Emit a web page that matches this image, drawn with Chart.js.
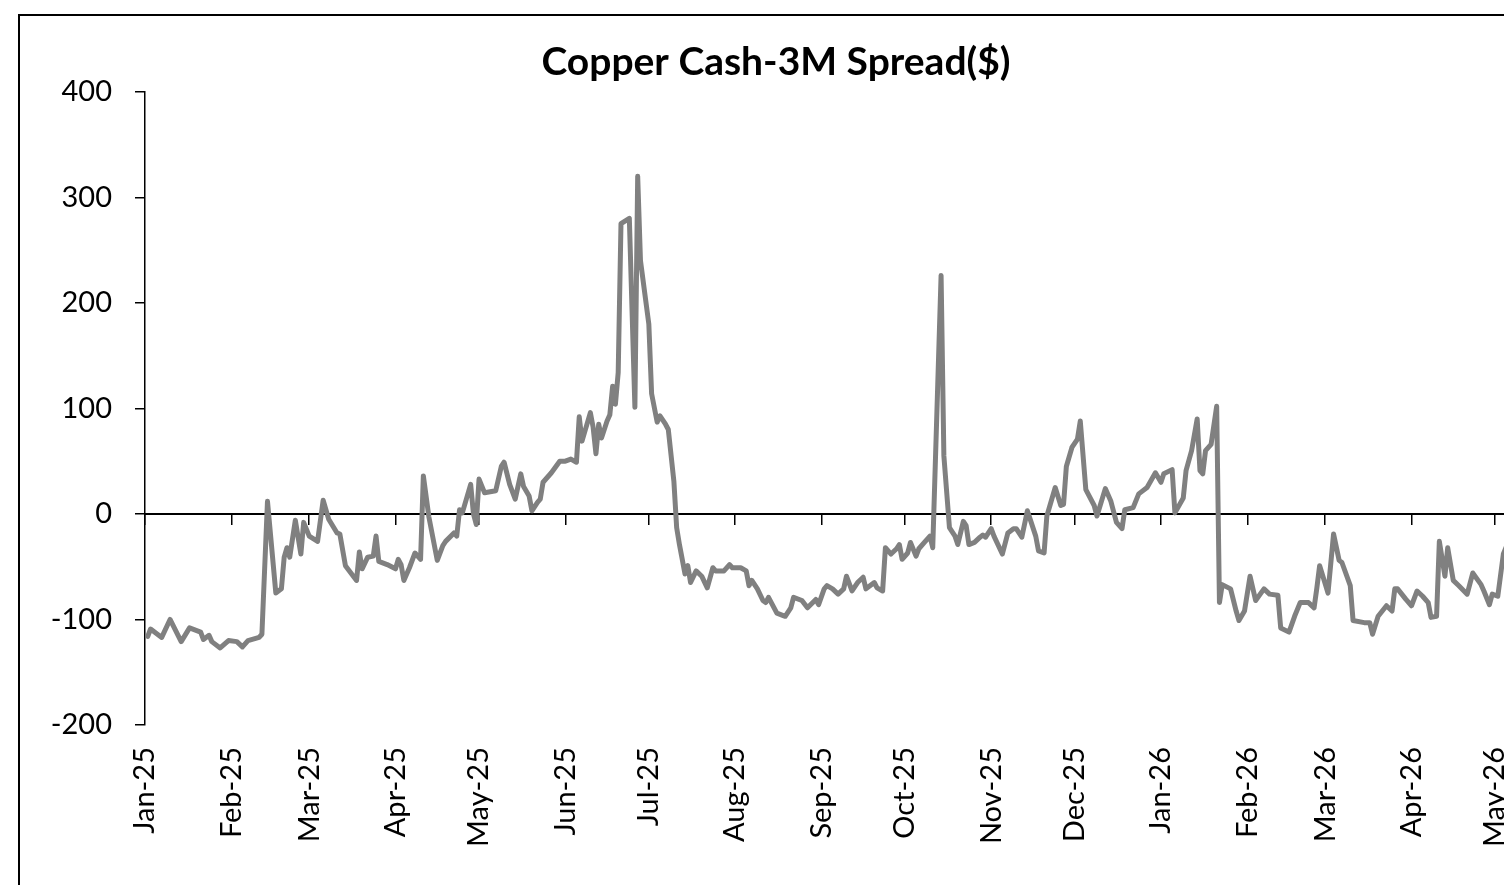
<!DOCTYPE html>
<html>
<head>
<meta charset="utf-8">
<title>Copper Cash-3M Spread</title>
<script src="https://cdn.jsdelivr.net/npm/chart.js@4"></script>
<style>
  html, body { margin: 0; padding: 0; background: #fff; overflow: hidden; }
  #page { position: relative; width: 1504px; height: 885px; overflow: hidden; }
  #frame { position: absolute; left: 18px; top: 14px; width: 1512px; height: 900px; border: 2px solid #000; }
  canvas { display: block; }
</style>
</head>
<body>
<div id="page"><div id="frame"><canvas id="chart" width="1512" height="900"></canvas></div></div>
<script>
// trading dates, one line per month
const dates = [
  '2025-01-02','2025-01-03','2025-01-07','2025-01-10','2025-01-14','2025-01-17','2025-01-21','2025-01-22','2025-01-24','2025-01-25','2025-01-28','2025-01-31',
  '2025-02-03','2025-02-05','2025-02-07','2025-02-11','2025-02-12','2025-02-14','2025-02-17','2025-02-19','2025-02-20','2025-02-21','2025-02-22','2025-02-24','2025-02-26','2025-02-27',
  '2025-03-01','2025-03-04','2025-03-06','2025-03-08','2025-03-11','2025-03-12','2025-03-14','2025-03-18','2025-03-19','2025-03-20','2025-03-22','2025-03-24','2025-03-25','2025-03-26','2025-03-29',
  '2025-04-01','2025-04-02','2025-04-03','2025-04-04','2025-04-06','2025-04-08','2025-04-10','2025-04-11','2025-04-13','2025-04-16','2025-04-18','2025-04-19','2025-04-22','2025-04-23','2025-04-24','2025-04-25','2025-04-28','2025-04-29','2025-04-30',
  '2025-05-01','2025-05-03','2025-05-07','2025-05-09','2025-05-10','2025-05-12','2025-05-14','2025-05-16','2025-05-17','2025-05-19','2025-05-20','2025-05-22','2025-05-23','2025-05-24','2025-05-27','2025-05-30',
  '2025-06-01','2025-06-03','2025-06-05','2025-06-06','2025-06-07','2025-06-10','2025-06-11','2025-06-12','2025-06-13','2025-06-14','2025-06-16','2025-06-17','2025-06-18','2025-06-19','2025-06-20','2025-06-21','2025-06-24','2025-06-26','2025-06-27','2025-06-28',
  '2025-07-01','2025-07-02','2025-07-04','2025-07-05','2025-07-07','2025-07-08','2025-07-10','2025-07-11','2025-07-12','2025-07-14','2025-07-15','2025-07-16','2025-07-18','2025-07-20','2025-07-22','2025-07-24','2025-07-25','2025-07-28','2025-07-30','2025-07-31',
  '2025-08-03','2025-08-05','2025-08-06','2025-08-07','2025-08-09','2025-08-11','2025-08-12','2025-08-13','2025-08-15','2025-08-16','2025-08-19','2025-08-21','2025-08-22','2025-08-25','2025-08-27','2025-08-30','2025-08-31',
  '2025-09-02','2025-09-03','2025-09-05','2025-09-07','2025-09-09','2025-09-10','2025-09-12','2025-09-14','2025-09-16','2025-09-17','2025-09-20','2025-09-21','2025-09-23','2025-09-24','2025-09-26','2025-09-28','2025-09-29','2025-09-30',
  '2025-10-02','2025-10-03','2025-10-05','2025-10-06','2025-10-08','2025-10-10','2025-10-11','2025-10-14','2025-10-15','2025-10-17','2025-10-19','2025-10-20','2025-10-22','2025-10-23','2025-10-24','2025-10-26','2025-10-28','2025-10-29','2025-10-30',
  '2025-11-01','2025-11-02','2025-11-05','2025-11-07','2025-11-09','2025-11-10','2025-11-12','2025-11-14','2025-11-17','2025-11-18','2025-11-20','2025-11-21','2025-11-24','2025-11-26','2025-11-27','2025-11-28','2025-11-30',
  '2025-12-02','2025-12-03','2025-12-05','2025-12-08','2025-12-09','2025-12-12','2025-12-14','2025-12-16','2025-12-18','2025-12-19','2025-12-22','2025-12-24','2025-12-27','2025-12-30',
  '2026-01-01','2026-01-02','2026-01-05','2026-01-06','2026-01-09','2026-01-10','2026-01-12','2026-01-14','2026-01-15','2026-01-16','2026-01-17','2026-01-19','2026-01-21','2026-01-22','2026-01-23','2026-01-26','2026-01-28','2026-01-29','2026-01-31',
  '2026-02-02','2026-02-04','2026-02-07','2026-02-09','2026-02-12','2026-02-13','2026-02-16','2026-02-18','2026-02-20','2026-02-23','2026-02-25','2026-02-26','2026-02-27',
  '2026-03-02','2026-03-04','2026-03-06','2026-03-07','2026-03-10','2026-03-11','2026-03-15','2026-03-17','2026-03-18','2026-03-20','2026-03-23','2026-03-25','2026-03-26','2026-03-27','2026-03-30',
  '2026-04-01','2026-04-03','2026-04-05','2026-04-07','2026-04-08','2026-04-10','2026-04-11','2026-04-13','2026-04-14','2026-04-16','2026-04-18','2026-04-21','2026-04-23','2026-04-26','2026-04-27','2026-04-29','2026-04-30',
  '2026-05-02','2026-05-04','2026-05-06','2026-05-08'
]

// cash-3M spread in $, same order as dates
const spread = [
  -116,-109,-117,-100,-121,-108,-112,-119,-115,-121,-127,-120,
  -121,-126,-120,-117,-114,12,-75,-71,-41,-32,-41,-6,-38,-8,
  -21,-26,13,-5,-18,-19,-49,-63,-36,-52,-41,-40,-21,-45,-48,
  -52,-43,-48,-63,-51,-37,-43,36,-3,-44,-30,-26,-18,-21,4,1,28,0,-10,
  33,20,22,45,49,28,14,38,26,17,3,11,14,30,39,50,
  50,52,49,92,69,96,82,57,85,72,88,94,121,104,134,275,280,101,320,240,
  180,114,87,93,85,80,31,-13,-29,-57,-49,-65,-54,-59,-70,-51,-54,-54,-48,-51,
  -51,-54,-68,-63,-71,-82,-84,-79,-89,-94,-97,-89,-79,-82,-89,-81,-86,
  -71,-68,-71,-76,-71,-59,-73,-65,-60,-71,-65,-70,-73,-32,-38,-33,-29,-43,
  -37,-27,-40,-33,-27,-21,-32,226,55,-13,-21,-29,-7,-11,-29,-27,-22,-20,-22,
  -14,-21,-38,-18,-14,-14,-22,3,-21,-35,-37,-2,25,8,9,45,63,
  71,88,23,8,-2,24,12,-8,-14,4,6,19,25,39,
  30,38,42,1,15,41,60,90,41,38,60,66,102,-84,-67,-71,-92,-101,-92,
  -59,-82,-71,-76,-77,-108,-112,-97,-84,-84,-89,-70,-49,
  -75,-19,-44,-46,-68,-101,-103,-103,-114,-97,-87,-92,-71,-71,-81,
  -87,-73,-78,-84,-98,-97,-26,-59,-32,-63,-68,-76,-56,-67,-73,-86,-76,
  -78,-38,-25,-30
]

const tickDates = ['2025-01-01','2025-02-01','2025-03-01','2025-04-01','2025-05-01','2025-06-01','2025-07-01','2025-08-01','2025-09-01',
  '2025-10-01','2025-11-01','2025-12-01','2026-01-01','2026-02-01','2026-03-01','2026-04-01','2026-05-01']
const tickLabels = ['Jan-25','Feb-25','Mar-25','Apr-25','May-25','Jun-25','Jul-25','Aug-25','Sep-25',
  'Oct-25','Nov-25','Dec-25','Jan-26','Feb-26','Mar-26','Apr-26','May-26']

const DAY = 86400000
const origin = Date.parse(tickDates[0])
const toDay = s => (Date.parse(s) - origin) / DAY

const points = dates.map((d, i) => ({ x: toDay(d), y: spread[i] }))
const tickDays = tickDates.map(toDay)
const lastDay = toDay(dates[dates.length - 1])

const monthTicks = scale => { scale.ticks = tickDays.map(v => ({ value: v })) }

Chart.defaults.font.family = 'Lato'

new Chart(document.getElementById('chart'), {
  type: 'line',
  data: {
    datasets: [{
      data: points,
      borderColor: '#808080',
      borderWidth: 5,
      pointRadius: 0,
      tension: 0,
      borderJoinStyle: 'round',
      borderCapStyle: 'round',
      fill: false
    }]
  },
  options: {
    responsive: false,
    animation: false,
    layout: { padding: { left: 17.5, right: 17.5, top: 0, bottom: 0 } },
    plugins: {
      legend: { display: false },
      tooltip: { enabled: false },
      title: {
        display: true,
        text: 'Copper Cash-3M Spread($)',
        color: '#000',
        font: { size: 39, weight: 'bold' },
        padding: { top: 23, bottom: 6 }
      }
    },
    scales: {
      x: {
        type: 'linear',
        min: 0,
        max: lastDay,
        afterBuildTicks: monthTicks,
        // fixed label band; the rotated labels must not squeeze the plot width
        afterFit: s => { s.height = 191; s.paddingLeft = 0; s.paddingRight = 0 },
        grid: { display: false, drawTicks: false },
        border: { display: false },
        ticks: {
          autoSkip: false,
          minRotation: 90,
          maxRotation: 90,
          padding: 22,
          color: '#000',
          font: { size: 29 },
          callback: (v, i) => tickLabels[i]
        }
      },
      // axis line drawn through y = 0 with month tick marks
      zero: {
        type: 'linear',
        axis: 'x',
        position: { y: 0 },
        min: 0,
        max: lastDay,
        afterBuildTicks: monthTicks,
        afterFit: s => { s.paddingLeft = 0; s.paddingRight = 0 },
        grid: { drawOnChartArea: false, drawTicks: true, tickLength: 10, tickColor: '#000', lineWidth: 1.5 },
        border: { color: '#000', width: 2 },
        ticks: { display: false }
      },
      y: {
        min: -200,
        max: 400,
        afterFit: s => { s.width = 107.5 },
        ticks: { stepSize: 100, padding: 23, color: '#000', font: { size: 29 } },
        grid: { drawOnChartArea: false, drawTicks: true, tickLength: 10, tickColor: '#000', lineWidth: 1.5 },
        border: { color: '#000', width: 1.5 }
      }
    }
  }
})
</script>
</body>
</html>
